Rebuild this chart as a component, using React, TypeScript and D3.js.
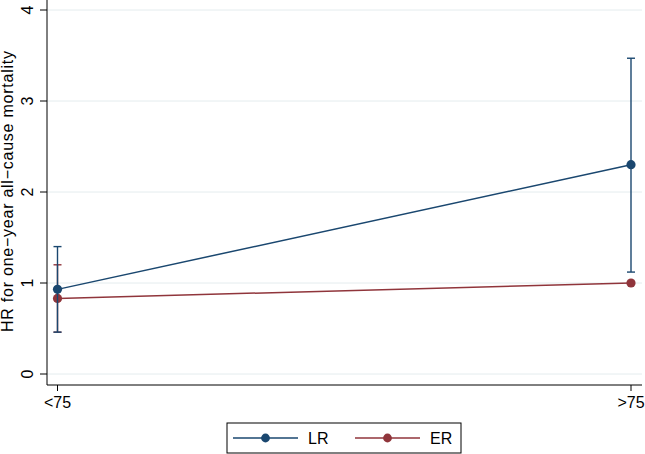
import React from "react";
import * as d3 from "d3";

const categories = ["<75", ">75"];
const lrEst = [0.93, 2.3];
const lrLow = [0.46, 1.12];
const lrHigh = [1.4, 3.47];
const erEst = [0.83, 1.0];
const erLow = [0.46, 1.0];
const erHigh = [1.2, 1.0];
const yTicks = [0, 1, 2, 3, 4];
const seriesNames = ["LR", "ER"];

const W = 645;
const H = 454;
const FONT = "'Liberation Sans', Arial, Helvetica, sans-serif";
const colors = ["#1a476f", "#90353b"];

export default function App() {
  const x = d3.scalePoint<string>().domain(categories).range([57.5, 631]);
  const y = d3.scaleLinear().domain([0, 4]).range([374, 10]);
  const axisLeft = 47;
  const axisBottom = 385;
  const plotRight = 642;

  const series = [
    { name: seriesNames[0], est: lrEst, lo: lrLow, hi: lrHigh, color: colors[0] },
    { name: seriesNames[1], est: erEst, lo: erLow, hi: erHigh, color: colors[1] },
  ];

  const line = d3
    .line<number>()
    .x((_, i) => x(categories[i]) as number)
    .y((d) => y(d));

  return (
    <svg
      width={W}
      height={H}
      style={{ position: "absolute", left: 0, top: 0, background: "#fff" }}
      fontFamily={FONT}
    >
      <rect x={0} y={0} width={W} height={H} fill="#fff" />
      {yTicks.map((t) => (
        <line
          key={"g" + t}
          x1={axisLeft}
          x2={plotRight}
          y1={y(t)}
          y2={y(t)}
          stroke="#e4ecee"
          strokeWidth={1}
        />
      ))}
      {[...series].reverse().map((s) => (
        <g key={s.name}>
          {s.est.map((_, i) => {
            const cx = x(categories[i]) as number;
            if (s.hi[i] === s.lo[i]) return null;
            return (
              <g key={i} stroke={s.color} strokeWidth={1.4}>
                <line x1={cx} x2={cx} y1={y(s.lo[i])} y2={y(s.hi[i])} />
                <line x1={cx - 4} x2={cx + 4} y1={y(s.lo[i])} y2={y(s.lo[i])} />
                <line x1={cx - 4} x2={cx + 4} y1={y(s.hi[i])} y2={y(s.hi[i])} />
              </g>
            );
          })}
          <path d={line(s.est) || ""} fill="none" stroke={s.color} strokeWidth={1.5} />
          {s.est.map((v, i) => (
            <circle key={i} cx={x(categories[i]) as number} cy={y(v)} r={4.6} fill={s.color} />
          ))}
        </g>
      ))}
      <line x1={axisLeft} x2={axisLeft} y1={0} y2={axisBottom} stroke="#000" strokeWidth={1} />
      <line x1={axisLeft} x2={plotRight} y1={axisBottom} y2={axisBottom} stroke="#000" strokeWidth={1} />
      {yTicks.map((t) => (
        <g key={"yt" + t}>
          <line x1={axisLeft - 7} x2={axisLeft} y1={y(t)} y2={y(t)} stroke="#000" />
          <text
            transform={`translate(${33},${y(t)}) rotate(-90)`}
            textAnchor="middle"
            fontSize={16}
            fill="#000"
          >
            {t}
          </text>
        </g>
      ))}
      {categories.map((c) => (
        <g key={"xt" + c}>
          <line
            x1={x(c) as number}
            x2={x(c) as number}
            y1={axisBottom}
            y2={axisBottom + 6}
            stroke="#000"
          />
          <text x={x(c) as number} y={408} textAnchor="middle" fontSize={16} fill="#000">
            {c}
          </text>
        </g>
      ))}
      <text
        transform={`translate(${13},${191.5}) rotate(-90)`}
        textAnchor="middle"
        fontSize={16}
        textLength={281}
        lengthAdjust="spacing"
        fill="#000"
      >
        HR for one−year all−cause mortality
      </text>
      <rect x={227} y={423} width={234} height={30} fill="#fff" stroke="#000" strokeWidth={1} />
      {series.map((s, i) => {
        const x0 = 233 + i * 122;
        return (
          <g key={"lg" + s.name}>
            <line x1={x0} x2={x0 + 65} y1={438} y2={438} stroke={s.color} strokeWidth={1.5} />
            <circle cx={x0 + 32.5} cy={438} r={4.4} fill={s.color} />
            <text x={x0 + 75} y={443.5} fontSize={16} fill="#000">
              {s.name}
            </text>
          </g>
        );
      })}
    </svg>
  );
}
